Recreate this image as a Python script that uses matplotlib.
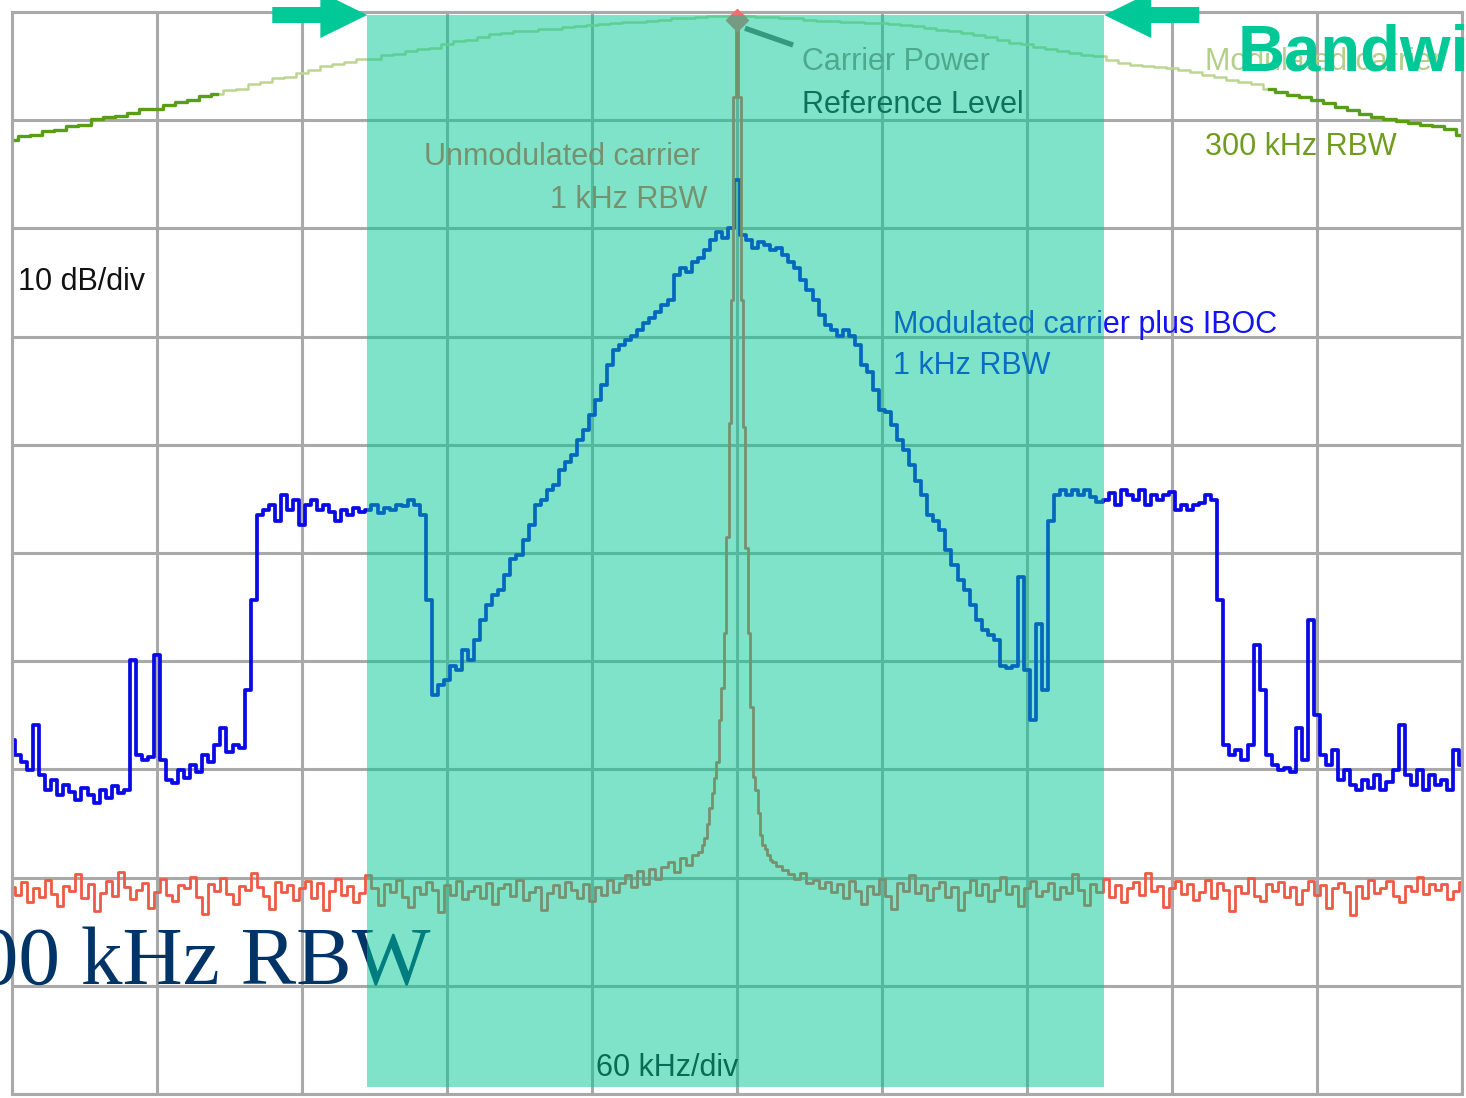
import numpy as np
import matplotlib
matplotlib.use("Agg")
import matplotlib.pyplot as plt
from matplotlib.patches import Rectangle, FancyArrow
from matplotlib import font_manager

# -------------------------------------------------------
# Spectrum data (frequency offset in kHz, level in dB rel. carrier)
# -------------------------------------------------------

# modulated carrier, 300 kHz RBW (5 kHz steps)
green_freq = np.arange(-300, 300.1, 5)
green_db = [
    -11.8, -11.5, -11.4, -11.0, -10.9, -10.5, -10.4, -9.9, -9.7, -9.6,
    -9.3, -9.0, -9.0, -8.6, -8.3, -8.1, -7.8, -7.6, -7.2, -7.1,
    -6.7, -6.5, -6.1, -6.0, -5.6, -5.4, -5.0, -4.8, -4.6, -4.3,
    -4.3, -4.0, -3.9, -3.6, -3.4, -3.3, -3.0, -2.7, -2.6, -2.3,
    -2.0, -1.9, -1.8, -1.8, -1.6, -1.6, -1.4, -1.3, -1.2, -1.1,
    -1.0, -0.9, -0.9, -0.8, -0.7, -0.6, -0.6, -0.5, -0.4, -0.4,
    -0.3,
    -0.4, -0.5, -0.5, -0.6, -0.6, -0.7, -0.8, -0.8, -0.9, -0.9,
    -1.0, -1.0, -1.1, -1.2, -1.3, -1.5, -1.7, -1.8, -1.9, -2.1,
    -2.3, -2.6, -2.9, -3.0, -3.2, -3.4, -3.6, -3.8, -4.0, -4.1,
    -4.4, -4.7, -4.9, -5.0, -5.1, -5.2, -5.4, -5.5, -5.8, -6.0,
    -6.3, -6.5, -6.7, -7.1, -7.4, -7.7, -7.9, -8.1, -8.4, -8.8,
    -9.1, -9.4, -9.7, -9.9, -10.1, -10.3, -10.4, -10.5, -10.8, -11.4,
]

# unmodulated carrier, 1 kHz RBW
red_freq = np.concatenate([np.arange(-300, -16, 2.5),
                           np.arange(-15, 15.5, 1.0),
                           np.arange(17.5, 300.1, 2.5)])
red_left = [
    -80.9, -81.6, -80.4, -82.3, -81.0, -81.8, -80.2, -81.5, -82.6, -80.8,
    -81.2, -79.7, -81.9, -80.6, -83.1, -81.4, -80.3, -81.7, -79.5, -80.9,
    -82.0, -81.1, -80.5, -82.8, -81.3, -80.1, -81.6, -82.2, -80.7, -81.0,
    -79.9, -81.8, -83.4, -80.6, -81.2, -80.0, -81.5, -82.4, -80.8, -81.1,
    -79.6, -80.9, -81.7, -82.9, -80.4, -81.3, -80.7, -82.1, -81.0, -80.3,
    -81.9, -80.5, -83.0, -81.2, -80.1, -81.6, -80.8, -82.3, -81.4, -79.8,
    -81.0, -82.5, -80.6, -81.3, -80.2, -81.8, -82.7, -80.9, -81.5, -80.4,
    -81.1, -83.2, -80.7, -81.6, -80.3, -82.0, -81.2, -80.8, -81.9, -80.5,
    -82.4, -81.0, -80.6, -81.7, -80.2, -82.1, -81.3, -80.9, -83.0, -81.4,
    -80.7, -81.8, -80.4, -81.1, -81.9, -80.6, -82.2,
    -80.9, -81.6, -80.2, -81.3, -80.5, -79.8, -80.9, -79.4, -80.6, -79.2,
    -80.1, -79.0, -78.6, -79.5, -78.2, -78.8, -77.9,
]
red_center = [
    -77.6, -77.0, -76.3, -75.0, -73.6, -72.2, -70.8, -69.3, -65.4, -62.5,
    -57.4, -48.5, -38.0, -26.6, -7.9, -0.3, -7.9, -26.6, -38.4, -49.5,
    -57.4, -64.2, -70.7, -71.9, -74.0, -76.1, -77.0, -77.4, -77.9, -78.4,
    -78.6,
]
red_right = [
    -78.9, -79.3, -79.7, -80.1, -79.6, -80.5, -80.2, -81.0, -80.4, -81.3,
    -80.6, -81.9, -80.3, -81.2, -82.4, -80.8, -81.5, -80.1, -81.7, -82.9,
    -80.5, -81.2, -79.8, -81.4, -80.7, -82.1, -81.0, -80.4, -81.8, -80.9,
    -83.0, -81.3, -80.2, -81.6, -80.6, -82.2, -81.1, -79.9, -81.5, -80.8,
    -82.6, -81.0, -80.3, -81.7, -81.2, -80.5, -82.0, -80.9, -81.4, -79.7,
    -81.1, -82.5, -80.6, -81.3, -80.1, -81.8, -80.7, -82.3, -81.0, -80.4,
    -81.6, -79.6, -81.2, -80.8, -82.7, -81.0, -80.3, -81.5, -80.6, -82.1,
    -81.3, -80.2, -81.9, -80.5, -81.1, -83.1, -80.8, -81.4, -80.0, -81.7,
    -82.2, -80.6, -81.2, -80.4, -81.8, -80.9, -82.4, -81.1, -80.3, -81.6,
    -80.7, -82.8, -81.0, -80.5, -81.3, -83.5, -80.8, -81.9, -80.2, -81.4,
    -81.0, -80.3, -81.7, -82.3, -80.8, -81.2, -79.9, -81.5, -80.6, -81.1,
    -80.6, -82.0, -81.2, -80.4,
]
red_db = red_left + red_center + red_right

# modulated carrier plus IBOC, 1 kHz RBW (2.5 kHz steps)
blue_freq = np.arange(-300, 300.1, 2.5)
blue_db = [
    -67.3, -68.7, -69.3, -70.1, -65.9, -70.5, -71.9, -71.0, -72.4, -71.4,
    -72.1, -72.8, -71.7, -72.4, -73.1, -71.9, -72.6, -71.5, -72.2, -71.9,
    -59.9, -68.7, -69.1, -68.9, -59.4, -69.1, -71.0, -71.3, -70.1, -70.8,
    -69.6, -70.2, -68.7, -69.3, -67.7, -66.2, -68.4, -67.7, -68.0, -62.7,
    -54.3, -46.5, -46.0, -45.6, -47.0, -44.6, -46.0, -45.1, -47.4, -45.6,
    -45.1, -46.0, -45.6, -46.2, -47.0, -46.0, -46.5, -45.8, -46.2, -46.0,
    -45.6, -46.3, -45.8, -46.0, -45.6, -45.7, -45.1, -45.6, -46.5, -54.3,
    -63.1, -62.2, -61.7, -60.4, -60.8, -59.0, -59.9, -58.0, -56.2, -54.8,
    -53.9, -53.4, -52.0, -50.6, -50.2, -48.8, -47.4, -45.6, -45.1, -44.2,
    -43.7, -42.3, -41.6, -40.9, -39.6, -38.6, -37.2, -35.9, -34.5, -32.6,
    -31.2, -30.8, -30.3, -29.9, -29.4, -28.7, -28.3, -27.7, -27.1, -26.6,
    -24.3, -23.7, -24.0, -23.1, -22.7, -22.0, -21.1, -20.3, -20.9, -20.0,
    -15.5, -20.6, -21.1, -21.8, -21.3, -21.5, -22.0, -21.8, -22.5, -23.1,
    -23.7, -24.8, -25.7, -26.6, -28.0, -28.9, -29.4, -29.9, -29.4, -29.9,
    -30.8, -32.6, -33.3, -34.9, -36.8, -37.0, -38.2, -39.6, -40.5, -41.9,
    -43.3, -44.6, -46.5, -47.0, -47.9, -49.7, -51.1, -52.5, -53.4, -54.8,
    -56.2, -57.1, -57.6, -58.0, -60.4, -60.6, -60.4, -52.2, -60.8, -65.4,
    -56.6, -62.7, -47.0, -44.6, -44.2, -44.6, -44.2, -44.6, -44.2, -44.8,
    -45.3, -45.1, -44.5, -45.6, -44.2, -44.6, -45.1, -44.2, -45.6, -44.6,
    -45.1, -44.6, -44.4, -46.0, -45.6, -46.0, -45.6, -45.4, -44.6, -45.1,
    -54.3, -67.7, -68.7, -68.2, -69.1, -67.7, -58.5, -62.7, -68.7, -69.6,
    -70.1, -69.9, -70.2, -66.2, -69.1, -56.2, -65.0, -68.7, -69.6, -68.2,
    -71.0, -70.1, -71.4, -71.9, -71.0, -71.7, -70.5, -71.9, -71.2, -70.1,
    -65.9, -70.5, -71.4, -70.1, -71.9, -70.5, -71.4, -71.0, -71.9, -68.2,
    -69.6,
]

# occupied bandwidth highlighted (kHz)
band_low = -153.0
band_high = 152.0

# -------------------------------------------------------
# Fonts
# -------------------------------------------------------

names = {f.name for f in font_manager.fontManager.ttflist}
if "Liberation Sans Narrow" in names:
    lab_font, lab_size = "Liberation Sans Narrow", 26
else:
    lab_font, lab_size = "Liberation Sans", 22

# -------------------------------------------------------
# Figure
# -------------------------------------------------------

fig = plt.figure(figsize=(14.66, 10.98), dpi=100)
fig.patch.set_facecolor("white")
ax = fig.add_axes([12 / 1466, 4 / 1098, 1450 / 1466, 1082 / 1098])
ax.set_xlim(-300, 300)
ax.set_ylim(-100, 0)
ax.set_xticks(np.arange(-300, 301, 60))
ax.set_yticks(np.arange(-100, 1, 10))
ax.tick_params(length=0, labelbottom=False, labelleft=False)
ax.grid(True, color="#a9a9a9", lw=2.2, zorder=0.5)
ax.set_axisbelow(True)
for s in ax.spines.values():
    s.set_color("#a9a9a9")
    s.set_linewidth(2.2)

# traces
gf = np.asarray(green_freq)
gd = np.asarray(green_db)
ax.plot(gf, gd, drawstyle="steps-mid", color="#bcd592", lw=1.8, zorder=2)
left = gf <= -215
right = gf >= 220
ax.plot(gf[left], gd[left], drawstyle="steps-mid", color="#5a9e18", lw=2.4, zorder=2)
ax.plot(gf[right], gd[right], drawstyle="steps-mid", color="#5a9e18", lw=2.4, zorder=2)

ax.plot(blue_freq, blue_db, drawstyle="steps-mid", color="#0a0ae6", lw=2.7, zorder=2.1)
ax.plot(red_freq, red_db, drawstyle="steps-mid", color="#ee5a45", lw=2.0, zorder=2.2)

# carrier power reference marker
ax.plot([0], [-0.7], marker="D", ms=11, color="#ec7070", zorder=3, clip_on=False)
ax.plot([3.3, 23.2], [-1.5, -3.05], color="#6b6b6b", lw=3.8,
        solid_capstyle="butt", zorder=3)

# labels
def label(x, y, s, color, ha="left"):
    ax.text(x, y, s, color=color, ha=ha, va="baseline", fontfamily=lab_font,
            fontsize=lab_size, zorder=3)

label(26.9, -5.4, "Carrier Power", "#9c8a84")
label(26.9, -9.3, "Reference Level", "#1c1c1c")
label(-15.3, -14.1, "Unmodulated carrier", "#ee5a45", ha="right")
label(-12.4, -18.1, "1 kHz RBW", "#ee5a45", ha="right")
label(64.6, -29.7, "Modulated carrier plus IBOC", "#1414f0")
label(64.6, -33.5, "1 kHz RBW", "#1414f0")
label(-297.5, -25.7, "10 dB/div", "#111111")
label(193.7, -5.4, "Modulated carrier", "#b2cf8c")
label(193.7, -13.2, "300 kHz RBW", "#6f9c1e")
label(-58.3, -98.3, "60 kHz/div", "#111111")

ax.text(-127, -89.9, "300 kHz RBW", ha="right", va="baseline",
        fontfamily="Liberation Serif", fontsize=60, color="#003366",
        zorder=3, clip_on=False)

# bandwidth highlight
ax.add_patch(Rectangle((band_low, -99.35), band_high - band_low, 99.07,
                       facecolor="#00C896", alpha=0.5, lw=0, zorder=4))

arrow_len = 39.3
for x0, dx in [(band_low - arrow_len, arrow_len), (band_high + arrow_len, -arrow_len)]:
    ax.add_patch(FancyArrow(x0, -0.28, dx, 0, width=1.48, head_width=4.25,
                            head_length=19.4, length_includes_head=True,
                            color="#00C896", lw=0, zorder=5, clip_on=False))

ax.text(207.0, -5.4, "Bandwidth", ha="left", va="baseline",
        fontfamily="Liberation Sans", fontweight="bold", fontsize=47,
        color="#00C896", zorder=6, clip_on=False)

fig.savefig("out.png", dpi=100)
